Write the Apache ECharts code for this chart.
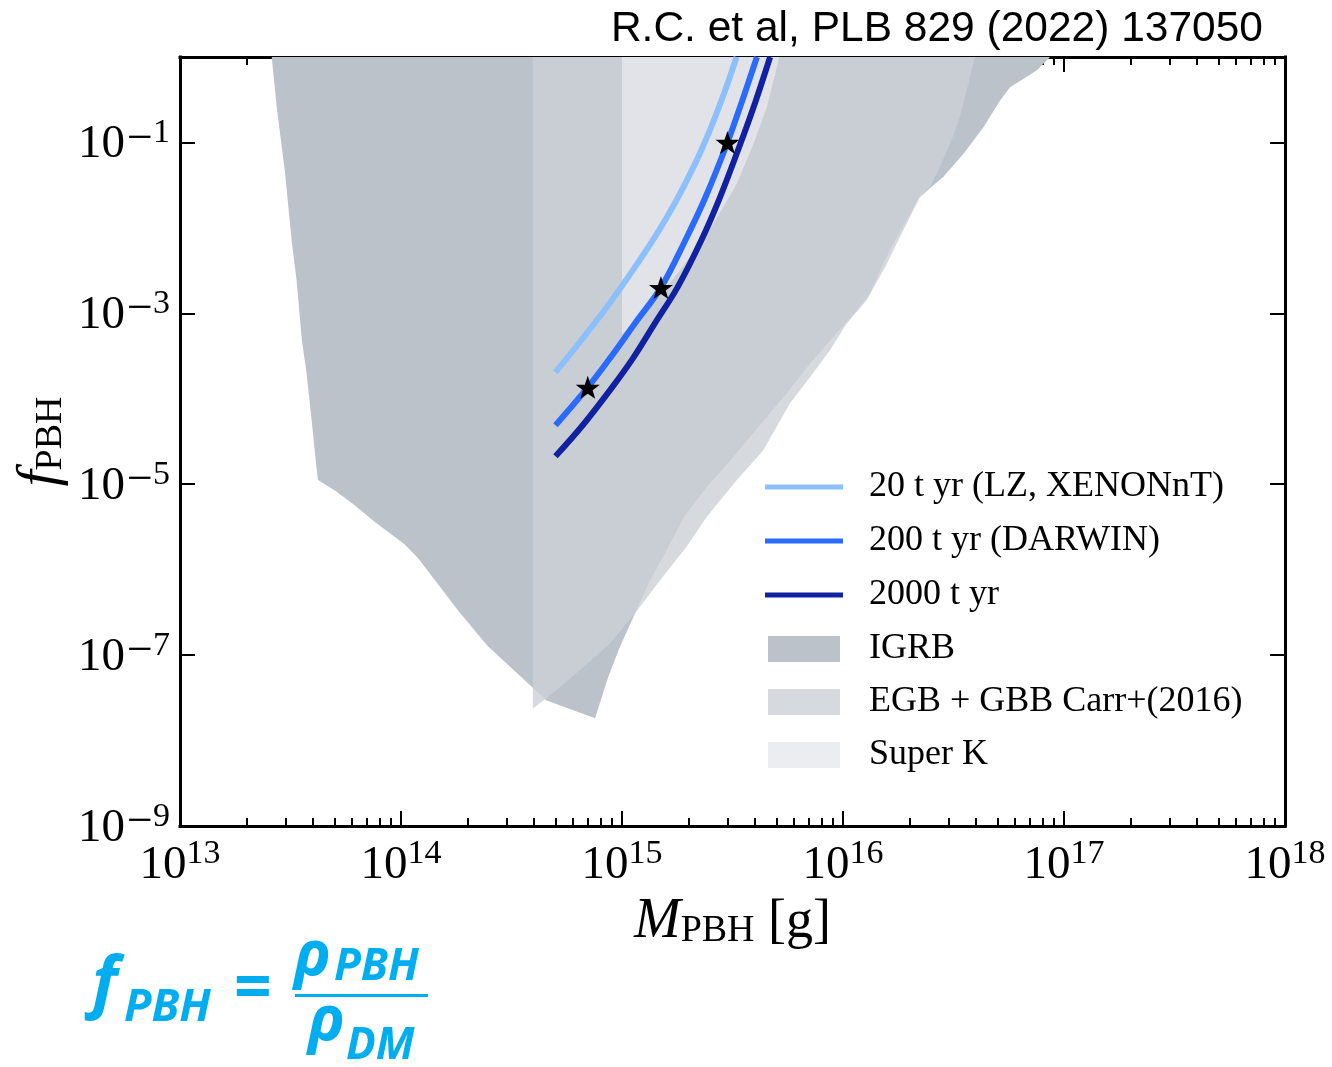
<!DOCTYPE html>
<html>
<head>
<meta charset="utf-8">
<script src="https://cdn.jsdelivr.net/npm/echarts@6.0.0/dist/echarts.min.js"></script>
<style>
html,body{margin:0;padding:0;background:#ffffff;}
#chart{width:1332px;height:1067px;}
</style>
</head>
<body>
<div id="chart"></div>
<script>
// ---------------- data (M in grams, f = f_PBH) ----------------
// IGRB excluded region (polygon outline)
const igrbM = [2.60e13, 2.74e13, 2.99e13, 3.20e13, 3.37e13, 3.56e13, 3.72e13, 3.93e13, 4.14e13, 4.21e13,
  5.00e13, 6.05e13, 7.59e13, 1.035e14, 1.19e14, 1.46e14, 1.80e14, 2.46e14, 3.48e14, 4.56e14,
  7.55e14, 8.67e14, 9.79e14, 1.146e15, 1.34e15, 1.59e15, 1.93e15, 2.42e15, 3.19e15, 4.52e15,
  5.56e15, 7.10e15, 9.04e15, 1.153e16, 1.324e16, 1.52e16, 1.75e16, 1.98e16, 2.21e16, 2.84e16,
  3.51e16, 4.32e16, 5.13e16, 5.70e16, 7.52e16, 8.65e16];
const igrbF = [1, 0.259, 4.33e-2, 7.13e-3, 2.43e-3, 4.83e-4, 2.19e-4, 6.03e-5, 1.62e-5, 1.12e-5,
  8.51e-6, 5.89e-6, 3.63e-6, 2.00e-6, 1.38e-6, 6.92e-7, 3.39e-7, 1.29e-7, 5.62e-8, 2.95e-8,
  1.82e-8, 5.57e-8, 1.25e-7, 3.08e-7, 7.53e-7, 1.69e-6, 4.34e-6, 9.31e-6, 2.08e-5, 6.14e-5,
  1.15e-4, 2.58e-4, 5.28e-4, 1.08e-3, 1.70e-3, 3.81e-3, 7.82e-3, 1.34e-2, 2.29e-2, 3.93e-2,
  7.36e-2, 0.151, 0.308, 0.444, 0.695, 1];

// EGB + GBB Carr+(2016) excluded region
const egbM = [3.95e14, 3.95e14, 4.56e14, 6.46e14, 8.83e14, 1.146e15, 1.486e15, 1.96e15, 2.42e15, 3.30e15,
  4.36e15, 5.75e15, 7.10e15, 8.73e15, 1.04e16, 1.28e16, 1.58e16, 1.81e16, 2.01e16, 2.23e16,
  2.43e16, 2.70e16, 3.05e16, 3.38e16, 3.69e16, 3.95e16];
const egbF = [1, 2.38e-8, 3.12e-8, 6.68e-8, 1.37e-7, 3.08e-7, 7.53e-7, 1.85e-6, 4.15e-6, 1.11e-5,
  2.50e-5, 8.79e-5, 1.80e-4, 3.69e-4, 7.59e-4, 1.42e-3, 3.81e-3, 7.82e-3, 1.34e-2, 2.29e-2,
  2.75e-2, 4.71e-2, 9.62e-2, 0.197, 0.483, 1];

// Super K excluded region
const superkM = [1e15, 1e15, 1.205e15, 1.54e15, 1.89e15, 2.42e15, 2.87e15, 3.30e15, 3.93e15, 4.52e15, 5.01e15, 5.15e15];
const superkF = [1, 5.73e-4, 8.91e-4, 1.82e-3, 3.55e-3, 8.51e-3, 1.74e-2, 3.24e-2, 9.55e-2, 0.256, 0.753, 1];

// projected sensitivities
const lzM = [5.0e14, 6.46e14, 8.38e14, 1.087e15, 1.41e15, 1.738e15, 2.14e15, 2.50e15, 2.92e15, 3.30e15];
const lzF = [2.04e-4, 4.65e-4, 1.11e-3, 2.86e-3, 7.85e-3, 1.96e-2, 5.61e-2, 0.139, 0.397, 1];
const darwinM = [5.0e14, 7.0e14, 8.83e14, 1.146e15, 1.5e15, 1.93e15, 2.38e15, 3.0e15, 3.49e15, 4.08e15];
const darwinF = [4.90e-5, 1.36e-4, 2.99e-4, 7.67e-4, 2.0e-3, 7.08e-3, 2.25e-2, 0.1, 0.302, 1];
const t2000M = [5.0e14, 6.64e14, 9.02e14, 1.122e15, 1.41e15, 1.78e15, 2.28e15, 2.77e15, 3.45e15, 4.02e15, 4.68e15];
const t2000F = [2.12e-5, 4.90e-5, 1.36e-4, 2.99e-4, 7.67e-4, 2.0e-3, 7.08e-3, 2.25e-2, 0.1, 0.302, 1];

// benchmark points (stars) on the DARWIN curve
const starM = [7e14, 1.5e15, 3e15];
const starF = [1.36e-4, 2e-3, 0.1];

// tick labels (decade exponents)
const xDecades = [13, 14, 15, 16, 17, 18];
const yLabelExps = [-9, -7, -5, -3, -1];
const minorMantissas = [2, 3, 4, 5, 6, 7, 8, 9];

const names = {
  lz: '20 t yr (LZ, XENONnT)',
  darwin: '200 t yr (DARWIN)',
  t2000: '2000 t yr',
  igrb: 'IGRB',
  egb: 'EGB + GBB Carr+(2016)',
  superk: 'Super K'
};

// ---------------- styles ----------------
const C = {
  lz: '#8cc0fd', darwin: '#2a6afc', t2000: '#1021a2',
  igrb: '#bcc2ca', egb: 'rgba(204,209,214,0.8)', superk: 'rgba(231,233,236,0.8)',
  formula: '#00aeef'
};
const SERIF = '"Liberation Serif", "Times New Roman", serif';
const FSANS = '"Open Sans", "Noto Sans", sans-serif';

// minor tick positions (in decades) for the decorative linear axes
const xMinorExps = [];
xDecades.slice(0, -1).forEach(d => minorMantissas.forEach(m => xMinorExps.push(Math.log10(m * Math.pow(10, d)))));

function supLabel(v) {
  if (v < 0) return '{b|10}{m|\u2212}{s|' + (-v) + '}';
  return '{b|10}{s|' + v + '}';
}
const tickRich = {
  b: {fontFamily: SERIF, fontSize: 47, color: '#000', lineHeight: 52, verticalAlign: 'bottom'},
  m: {fontFamily: SERIF, fontSize: 46, color: '#000', lineHeight: 34, verticalAlign: 'top', padding: [0, 0, 0, 2]},
  s: {fontFamily: SERIF, fontSize: 34, color: '#000', lineHeight: 34, verticalAlign: 'top'}
};
const tickLine = {color: '#000', width: 2};
const frameLine = {color: '#000', width: 3, cap: 'square'};

function polygonSeries(name, M, F, color) {
  return {
    type: 'custom', name: name, xAxisIndex: 0, yAxisIndex: 0, clip: true, silent: true,
    itemStyle: {color: color},
    data: M.map((m, i) => [m, F[i]]),
    renderItem: function (params, api) {
      if (params.dataIndex !== 0) return null;
      const pts = M.map((m, i) => api.coord([m, F[i]]));
      return {type: 'polygon', shape: {points: pts}, style: {fill: color}};
    }
  };
}
function curveSeries(name, M, F, color) {
  return {
    type: 'line', name: name, xAxisIndex: 0, yAxisIndex: 0, clip: true, silent: true,
    data: M.map((m, i) => [m, F[i]]),
    showSymbol: false, symbol: 'none', smooth: 0.35,
    lineStyle: {color: color, width: 6, cap: 'butt'}, itemStyle: {color: color}, z: 3
  };
}

const chart = echarts.init(document.getElementById('chart'), null, {renderer: 'canvas'});
const decoX = (pos, vals, len, extra) => Object.assign({
  type: 'value', min: 13, max: 18, position: pos, gridIndex: 0,
  axisLine: {show: false, onZero: false},
  axisTick: {show: true, inside: true, length: len, lineStyle: tickLine, customValues: vals},
  axisLabel: {show: false}, splitLine: {show: false}
}, extra || {});

const option = {
  animation: false,
  backgroundColor: '#ffffff',
  textStyle: {fontFamily: SERIF},
  title: {
    text: 'R.C. et al, PLB 829 (2022) 137050', right: 64, top: 3,
    textStyle: {fontFamily: '"Liberation Sans", Arial, sans-serif', fontSize: 42.5, fontWeight: 'normal', color: '#000'}
  },
  grid: {left: 180, right: 47, top: 57, bottom: 241, containLabel: false},
  xAxis: [
    {
      type: 'log', logBase: 10, min: 1e13, max: 1e18, position: 'bottom',
      axisLine: {show: true, onZero: false, lineStyle: frameLine},
      axisTick: {show: false}, axisLabel: {show: false}, splitLine: {show: false}, minorTick: {show: false},
      name: '{i|M}{s|PBH}{n| [g]}', nameLocation: 'middle', nameGap: 64,
      nameTextStyle: {rich: {
        i: {fontFamily: SERIF, fontStyle: 'italic', fontSize: 56, lineHeight: 60, verticalAlign: 'bottom', color: '#000'},
        s: {fontFamily: SERIF, fontSize: 38, lineHeight: 40, verticalAlign: 'bottom', color: '#000'},
        n: {fontFamily: SERIF, fontSize: 54, lineHeight: 60, verticalAlign: 'bottom', color: '#000'}
      }}
    },
    decoX('bottom', xDecades, 15, {
      axisLabel: {show: true, customValues: xDecades, margin: 11, formatter: supLabel, rich: tickRich}
    }),
    decoX('bottom', xMinorExps, 8),
    decoX('top', xDecades, 15, {axisLine: {show: true, onZero: false, lineStyle: frameLine}}),
    decoX('top', xMinorExps, 8)
  ],
  yAxis: [
    {
      type: 'log', logBase: 10, min: 1e-9, max: 1, position: 'left',
      axisLine: {show: true, onZero: false, lineStyle: frameLine},
      axisTick: {show: false}, axisLabel: {show: false}, splitLine: {show: false}, minorTick: {show: false},
      name: '{i|f}{s|PBH}', nameLocation: 'middle', nameGap: 110, nameRotate: 90,
      nameTextStyle: {rich: {
        i: {fontFamily: SERIF, fontStyle: 'italic', fontSize: 58, lineHeight: 60, verticalAlign: 'bottom', color: '#000'},
        s: {fontFamily: SERIF, fontSize: 38, lineHeight: 40, verticalAlign: 'bottom', color: '#000'}
      }}
    },
    {
      type: 'value', min: -9, max: 0, position: 'left',
      axisLine: {show: false, onZero: false},
      axisTick: {show: true, inside: true, length: 15, lineStyle: tickLine, customValues: yLabelExps},
      axisLabel: {show: true, customValues: yLabelExps, margin: 10, formatter: supLabel, rich: tickRich},
      splitLine: {show: false}
    },
    {
      type: 'value', min: -9, max: 0, position: 'right',
      axisLine: {show: true, onZero: false, lineStyle: frameLine},
      axisTick: {show: true, inside: true, length: 15, lineStyle: tickLine, customValues: yLabelExps},
      axisLabel: {show: false}, splitLine: {show: false}
    }
  ],
  legend: [
    {
      orient: 'vertical', left: 765, top: 467, padding: 0, itemWidth: 78, itemHeight: 5, itemGap: 14,
      selectedMode: false, icon: 'rect',
      textStyle: {fontFamily: SERIF, fontSize: 36, color: '#000', lineHeight: 40, padding: [0, 0, 0, 21]},
      data: [
        {name: names.lz, icon: 'rect', itemStyle: {color: C.lz, borderWidth: 0}},
        {name: names.darwin, icon: 'rect', itemStyle: {color: C.darwin, borderWidth: 0}},
        {name: names.t2000, icon: 'rect', itemStyle: {color: C.t2000, borderWidth: 0}}
      ]
    },
    {
      orient: 'vertical', left: 768, top: 629, padding: 0, itemWidth: 72, itemHeight: 26, itemGap: 13,
      selectedMode: false, icon: 'rect',
      textStyle: {fontFamily: SERIF, fontSize: 36, color: '#000', lineHeight: 40, padding: [0, 0, 0, 24]},
      data: [
        {name: names.igrb, icon: 'rect', itemStyle: {color: C.igrb, borderWidth: 0}},
        {name: names.egb, icon: 'rect', itemStyle: {color: C.egb, borderWidth: 0}},
        {name: names.superk, icon: 'rect', itemStyle: {color: C.superk, borderWidth: 0}}
      ]
    }
  ],
  series: [
    polygonSeries(names.igrb, igrbM, igrbF, C.igrb),
    polygonSeries(names.egb, egbM, egbF, C.egb),
    polygonSeries(names.superk, superkM, superkF, C.superk),
    curveSeries(names.lz, lzM, lzF, C.lz),
    curveSeries(names.darwin, darwinM, darwinF, C.darwin),
    curveSeries(names.t2000, t2000M, t2000F, C.t2000),
    {
      type: 'scatter', name: 'benchmark', xAxisIndex: 0, yAxisIndex: 0, silent: true, z: 5,
      data: starM.map((m, i) => [m, starF[i]]),
      symbol: 'path://M50,0 L61.8,35.1 L97.6,34.5 L69.1,56.7 L79.4,90.5 L50,70 L20.6,90.5 L30.9,56.7 L2.4,34.5 L38.2,35.1 Z',
      symbolSize: [24, 23], itemStyle: {color: '#000', opacity: 1}
    }
  ],
  graphic: [
    {type: 'text', x: 92, y: 986, style: {text: 'f', font: 'italic bold 68px ' + FSANS, fill: C.formula, verticalAlign: 'middle'}},
    {type: 'text', x: 124, y: 1008, style: {text: 'PBH', font: 'italic bold 45px ' + FSANS, fill: C.formula, verticalAlign: 'middle'}},
    {type: 'text', x: 234, y: 991, style: {text: '=', font: 'bold 66px ' + FSANS, fill: C.formula, verticalAlign: 'middle'}},
    {type: 'rect', shape: {x: 295, y: 994, width: 133, height: 3}, style: {fill: C.formula}},
    {type: 'text', x: 294, y: 957, style: {text: '\u03c1', font: 'italic bold 62px ' + FSANS, fill: C.formula, verticalAlign: 'middle'}},
    {type: 'text', x: 334, y: 967, style: {text: 'PBH', font: 'italic bold 44px ' + FSANS, fill: C.formula, verticalAlign: 'middle'}},
    {type: 'text', x: 308, y: 1022, style: {text: '\u03c1', font: 'italic bold 62px ' + FSANS, fill: C.formula, verticalAlign: 'middle'}},
    {type: 'text', x: 346, y: 1046, style: {text: 'DM', font: 'italic bold 44px ' + FSANS, fill: C.formula, verticalAlign: 'middle'}}
  ]
};
chart.setOption(option);
</script>
</body>
</html>
